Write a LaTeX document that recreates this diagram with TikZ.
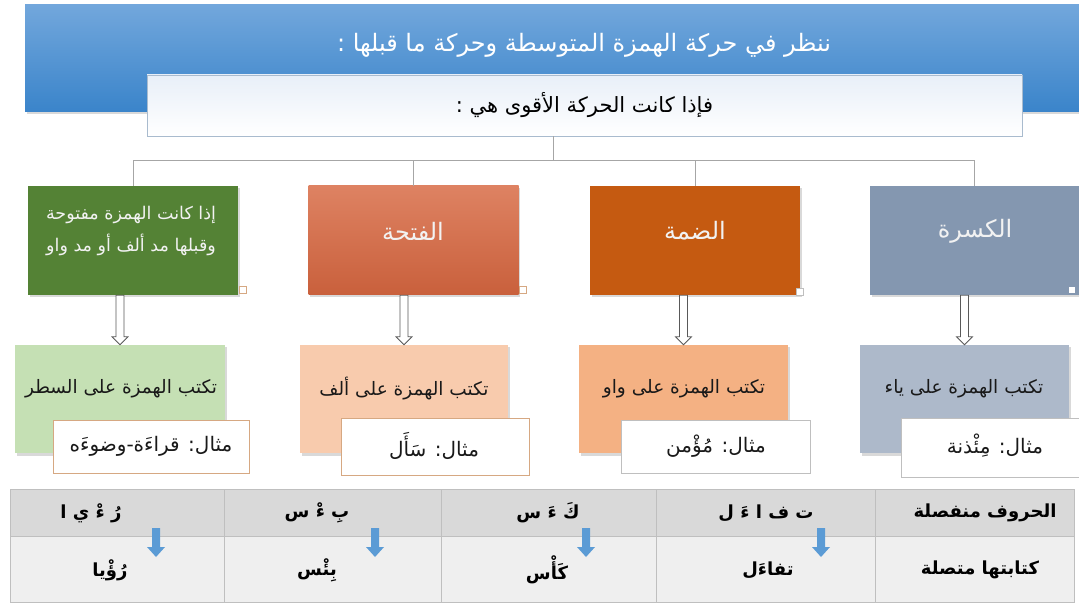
\documentclass[tikz,border=0pt]{standalone}
\usepackage{fontspec}
\newfontfamily\arabicfont[Script=Arabic]{DejaVu Sans}
\newfontfamily\arabicbold[Script=Arabic]{DejaVu Sans Bold}
\TeXXeTstate=1
\usetikzlibrary{shadows,calc}
\newcommand\artxt[1]{{\arabicfont\beginR #1\endR}}
\newcommand\artxtb[1]{{\arabicbold\beginR #1\endR}}
\definecolor{bannertop}{HTML}{72A7DC}
\definecolor{bannerbot}{HTML}{3A84CA}
\definecolor{cgreen}{HTML}{548235}
\definecolor{cfattop}{HTML}{DE8262}
\definecolor{cfatbot}{HTML}{C9603C}
\definecolor{cdamma}{HTML}{C55A11}
\definecolor{ckasra}{HTML}{8497B0}
\definecolor{lgreen}{HTML}{C5E0B4}
\definecolor{lfat}{HTML}{F8CBAD}
\definecolor{ldamma}{HTML}{F4B183}
\definecolor{lkasra}{HTML}{ADB9CA}
\definecolor{tanline}{HTML}{D6A882}
\definecolor{grayline}{HTML}{BFBFBF}
\definecolor{treegray}{HTML}{A6A6A6}
\definecolor{subtop}{HTML}{E8EFF8}
\definecolor{subline}{HTML}{A9BBCE}
\definecolor{rowone}{HTML}{D9D9D9}
\definecolor{rowtwo}{HTML}{EFEFEF}
\definecolor{arrblue}{HTML}{5B9BD5}
\newcommand\hollowarr[2]{%
  \draw[holarr] let \p1=(#1), \p2=(#2) in
   (\x2-4pt,\y1) -- (\x2-4pt,\y2+8pt) -- (\x2-8pt,\y2+8pt) -- (\x2,\y2)
   -- (\x2+8pt,\y2+8pt) -- (\x2+4pt,\y2+8pt) -- (\x2+4pt,\y1) -- cycle;}
\newcommand\bluearr[2]{%
  \fill[arrblue] (#1-4,528) -- (#1-4,547) -- (#1-9,547) -- (#1,#2) -- (#1+9,547) -- (#1+4,547) -- (#1+4,528) -- cycle;}
\begin{document}
\begin{tikzpicture}[x=1pt,y=-1pt,
  shad/.style={drop shadow={shadow xshift=1.5pt, shadow yshift=-2.5pt, opacity=0.3}},
  banner/.style={rectangle, top color=bannertop, bottom color=bannerbot, draw=none, shad},
  bannertext/.style={text=white, font=\fontsize{24}{28}\selectfont},
  subbox/.style={rectangle, top color=subtop, bottom color=white, draw=subline, line width=0.8pt, font=\fontsize{21}{24}\selectfont},
  upbox/.style={rectangle, minimum width=210pt, minimum height=109pt, draw=none, shad},
  uptext/.style={text=white!95!black, font=\fontsize{24}{28}\selectfont, align=center},
  lowbox/.style={rectangle, minimum width=209pt, minimum height=108pt, draw=none, shad},
  lowtext/.style={text=black!90, font=\fontsize{18.5}{22}\selectfont},
  exbox/.style={rectangle, fill=white, line width=0.8pt},
  extext/.style={text=black!90, font=\fontsize{20}{24}\selectfont},
  treeline/.style={draw=treegray, line width=1pt},
  holarr/.style={draw=black!65, fill=white, line width=0.8pt},
  cellpath/.style={draw=grayline, line width=0.8pt},
  celltext/.style={text=black, font=\fontsize{18}{21}\selectfont},
  handle/.style={rectangle, minimum size=7pt, inner sep=0pt, fill=white, line width=0.6pt}
]
\useasboundingbox (0,0) rectangle (1079,609);
% banner
\node[banner, minimum width=1054pt, minimum height=107pt] (banner) at (552,58.5) {};
\node[bannertext] (bannert) at (584,45) {\artxt{ننظر في حركة الهمزة المتوسطة وحركة ما قبلها :}};
\node[subbox, minimum width=875pt, minimum height=61pt] (sub) at (584.5,105.5) {\artxt{فإذا كانت الحركة الأقوى هي :}};
% upper boxes
\node[upbox, fill=cgreen] (g1) at (133,240.5) {};
\node[upbox, top color=cfattop, bottom color=cfatbot] (g2) at (413.5,240.5) {};
\node[upbox, fill=cdamma] (g3) at (695,240.5) {};
\node[upbox, fill=ckasra, minimum width=209pt] (g4) at (974.5,240.5) {};
\node[uptext, font=\fontsize{17.5}{32}\selectfont] (g1t) at (131,231) {\artxt{إذا كانت الهمزة مفتوحة}\\ \artxt{وقبلها مد ألف أو مد واو}};
\node[uptext] (g2t) at (413,231) {\artxt{الفتحة}};
\node[uptext] (g3t) at (695,231) {\artxt{الضمة}};
\node[uptext] (g4t) at (975,231) {\artxt{الكسرة}};
% handles
\node[handle, draw=tanline] (h1) at (243,290) {};
\node[handle, draw=tanline] (h2) at (523,290) {};
\node[handle, draw=grayline] (h3) at (800,292) {};
\node[handle, draw=none, minimum size=6pt] (h4) at (1072,290) {};
% tree
\coordinate (hub) at (553,161);
\draw[treeline] (hub |- sub.south) -- (hub);
\draw[treeline] (g1.north |- hub) -- (g4.north |- hub);
\foreach \n in {g1,g2,g3,g4} {\draw[treeline] (\n.north |- hub) -- (\n.north);}
% lower boxes
\node[lowbox, fill=lgreen, minimum width=210pt] (l1) at (120,399) {};
\node[lowbox, fill=lfat, minimum width=208pt] (l2) at (404,399) {};
\node[lowbox, fill=ldamma] (l3) at (683.5,399) {};
\node[lowbox, fill=lkasra] (l4) at (964.5,399) {};
\node[lowtext] (l1t) at (121,389) {\artxt{تكتب الهمزة على السطر}};
\node[lowtext] (l2t) at (404,389) {\artxt{تكتب الهمزة على ألف}};
\node[lowtext] (l3t) at (684,389) {\artxt{تكتب الهمزة على واو}};
\node[lowtext] (l4t) at (964,389) {\artxt{تكتب الهمزة على ياء}};
% hollow arrows
\hollowarr{g1.south}{l1.north}
\hollowarr{g2.south}{l2.north}
\hollowarr{g3.south}{l3.north}
\hollowarr{g4.south}{l4.north}
% example boxes
\node[exbox, draw=tanline, minimum width=196pt, minimum height=53pt] (e1) at (151,446.5) {};
\node[exbox, draw=tanline, minimum width=188pt, minimum height=57pt] (e2) at (435,446.5) {};
\node[exbox, draw=grayline, minimum width=189pt, minimum height=53pt] (e3) at (715.5,446.5) {};
\node[exbox, draw=grayline, minimum width=184pt, minimum height=59pt] (e4) at (993,447.5) {};
\node[extext] (e1t) at (151,446) {\artxt{مثال: قراءَة-وضوءَه}};
\node[extext] (e2t) at (434,446) {\artxt{مثال: سَأَل}};
\node[extext] (e3t) at (716,446) {\artxt{مثال: مُؤْمن}};
\node[extext] (e4t) at (995,446) {\artxt{مثال: مِئْذنة}};
% table
\fill[rowone] (10,489) rectangle (1074,536);
\fill[rowtwo] (10,536) rectangle (1074,602);
\draw[cellpath] (10,489) rectangle (1074,602);
\draw[cellpath] (10,536) -- (1074,536);
\foreach \cx in {224,441,656,875} {\draw[cellpath] (\cx,489) -- (\cx,602);}
\node[celltext] (a1t) at (91,513) {\artxtb{رُ ءْ ي ا}};
\node[celltext] (a2t) at (317,513) {\artxtb{بِ ءْ س}};
\node[celltext] (a3t) at (548,513) {\artxtb{كَ ءَ س}};
\node[celltext] (a4t) at (766,513) {\artxtb{ت ف ا ءَ ل}};
\node[celltext] (a5t) at (985,513) {\artxtb{الحروف منفصلة}};
\node[celltext] (b1t) at (110,570) {\artxtb{رُؤْيا}};
\node[celltext] (b2t) at (317,570) {\artxtb{بِئْس}};
\node[celltext] (b3t) at (547,570) {\artxtb{كَأْس}};
\node[celltext] (b4t) at (768,570) {\artxtb{تفاءَل}};
\node[celltext] (b5t) at (980,570) {\artxtb{كتابتها متصلة}};
% blue arrows
\bluearr{156}{557}
\bluearr{375}{557}
\bluearr{586}{557}
\bluearr{821}{557}
\end{tikzpicture}
\end{document}
